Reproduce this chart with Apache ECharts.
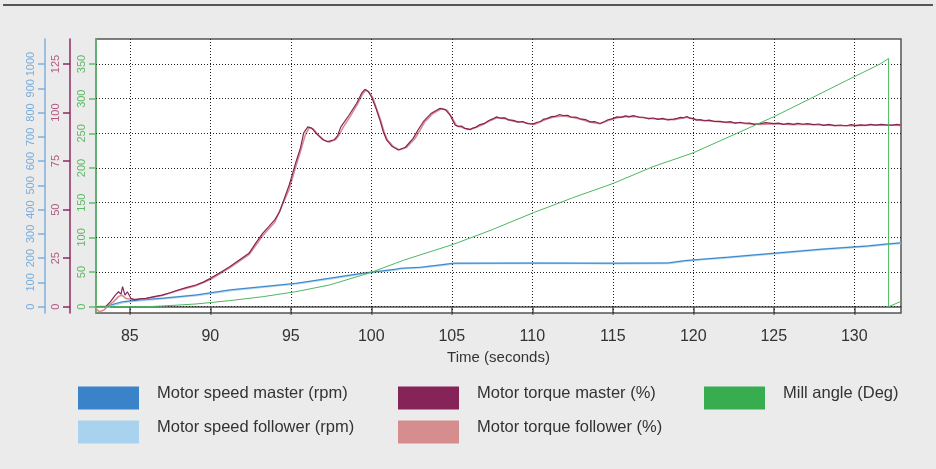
<!DOCTYPE html>
<html>
<head>
<meta charset="utf-8">
<script src="https://cdn.jsdelivr.net/npm/echarts@6/dist/echarts.min.js"></script>
<style>
html,body{margin:0;padding:0;background:#ebebeb;}
#chart{width:936px;height:469px;}
</style>
</head>
<body>
<div id="chart"></div>
<script>
// ---- tick labels ----
const timeTicks = [85, 90, 95, 100, 105, 110, 115, 120, 125, 130];
const angleTicks = [0, 50, 100, 150, 200, 250, 300, 350];
const torqueTicks = [0, 25, 50, 75, 100, 125];
const speedTicks = [0, 100, 200, 300, 400, 500, 600, 700, 800, 900, 1000];

// ---- series names ----
const names = ['Motor speed master (rpm)', 'Motor speed follower (rpm)',
  'Motor torque master (%)', 'Motor torque follower (%)', 'Mill angle (Deg)'];

// ---- data: [time (s), value] ----
const speedMaster = [[82.9,0],[83.6,0],[83.8,7],[84.5,20],[85.6,27.6],[87.0,34.5],[89.1,48],[91.2,69],
  [93.25,82.4],[95.3,96],[97.4,117],[99.46,137.6],[101.5,154],[101.8,158],[103.0,162],[104.27,172],
  [105.1,179],[108,179.3],[110,179.5],[113,179.2],[115,179],[118.4,180],[119.4,189],[120.43,195],
  [122.1,203.5],[125,220],[127.9,236.5],[130.8,250],[132,258],[132.9,263]];
const speedFollower = [[82.9,0],[83.7,0],[83.9,6],[84.6,19],[85.7,27],[87.1,34],[89.2,47.5],[91.3,68.5],
  [93.3,82],[95.4,95.5],[97.5,116.5],[99.5,137],[101.6,153.5],[101.9,157.5],[103.1,161.5],[104.35,171.5],
  [105.2,178.5],[108,179],[110,179.2],[113,179],[115,178.8],[118.5,179.8],[119.5,188.5],[120.5,194.5],
  [122.2,203],[125.1,219.5],[128,236],[130.9,249.5],[132.1,257.5],[132.9,262]];

const torqueMaster = [[82.9,0],[83.5,0],[83.8,2.6],[84.1,6],[84.3,7.7],[84.45,6.5],[84.55,10.3],[84.7,6],
  [84.85,7.7],[85.06,4.3],[85.3,3.5],[85.6,4],[86.0,4.3],[86.5,5.2],[87.0,6],[87.5,7.2],[88.0,8.6],
  [88.5,9.8],[89.1,11.2],[89.6,12.8],[90.0,14.6],[90.6,17.5],[91.2,20.6],[91.8,24],[92.4,27.5],
  [92.8,32.5],[93.25,37.8],[93.6,41],[94.0,44.7],[94.3,48.8],[94.9,62.7],[95.3,74],[95.6,81.8],
  [95.8,89.5],[96.06,92.6],[96.3,92],[96.6,89],[97.0,86],[97.3,85],[97.7,86],[97.9,88],[98.1,92.5],
  [98.6,98.5],[99.09,104.8],[99.4,110],[99.6,112],[99.8,111],[100.02,108],[100.3,102],[100.54,96],
  [100.75,90],[100.95,85.9],[101.3,82.5],[101.68,80.7],[102.1,82],[102.6,86.7],[102.9,91],[103.23,95.3],
  [103.7,99.5],[104.27,102.2],[104.6,101.5],[104.89,98.7],[105.2,93.6],[105.4,92.8],[105.6,93.1],
  [105.8,91.9],[106.0,91.6],[106.13,91.2],[106.3,92.0],[106.5,92.5],[106.75,93.8],[107.0,94.3],
  [107.3,95.9],[107.5,96.6],[107.79,97.8],[108.0,97.1],[108.3,97.3],[108.5,96.2],[108.82,96.0],
  [109.1,95.1],[109.4,95.4],[109.7,94.3],[110.07,94.2],[110.3,95.0],[110.5,95.4],[110.7,96.6],
  [110.9,96.9],[111.2,97.9],[111.4,98.0],[111.7,99.0],[111.93,98.5],[112.2,98.6],[112.4,97.6],
  [112.7,97.7],[112.97,96.8],[113.3,96.4],[113.6,95.2],[113.9,95.3],[114.21,94.4],[114.5,95.4],
  [114.7,96.3],[115.0,96.9],[115.25,97.8],[115.5,97.5],[115.8,98.3],[116.0,97.8],[116.28,98.4],
  [116.6,97.7],[116.9,97.6],[117.2,96.8],[117.52,97.2],[117.8,96.5],[118.1,97.0],[118.4,96.2],
  [118.77,96.6],[119.0,97.0],[119.2,97.5],[119.4,97.3],[119.6,98.0],[119.8,97.1],[120.0,96.9],
  [120.2,96.1],[120.43,96.4],[120.7,95.8],[121.0,96.1],[121.3,95.4],[121.67,95.5],[122.0,95.0],
  [122.3,95.3],[122.6,94.6],[122.91,95.0],[123.2,94.5],[123.5,94.6],[123.8,93.9],[124.15,94.3],
  [124.5,94.8],[124.98,94.3],[125.3,94.6],[125.6,93.9],[125.9,94.4],[126.22,93.9],[126.5,94.5],
  [126.8,94.0],[127.1,94.3],[127.47,93.8],[127.8,94.1],[128.1,93.4],[128.4,93.9],[128.8,93.3],
  [129.13,93.6],[129.5,93.2],[129.8,93.8],[130.1,93.3],[130.37,93.7],[130.7,93.4],[131.0,94.0],
  [131.3,93.5],[131.7,93.9],[132.03,93.6],[132.15,94.6],[132.4,93.5],[132.65,93.9],[132.9,93.5]];
const torqueFollower = [[82.9,-1],[83.1,-2.6],[83.4,-1.7],[83.7,0.9],[84.0,2.6],[84.3,5.2],[84.5,6],
  [84.75,4.3],[85.0,4],[85.5,3.8],[86,4.1],[87,5.8],[88,8.3],[89.1,10.8],[90,14],[91.2,20],[92.4,26.8],
  [93.25,36.5],[94,43.5],[94.9,60.5],[95.3,72],[95.6,80],[95.9,88.5],[96.15,92.2],[96.4,91.5],
  [96.7,88.5],[97.1,85.6],[97.4,84.8],[97.8,86.2],[98.0,88.5],[98.25,92.4],[98.7,98.2],[99.15,104.5],
  [99.45,109.5],[99.65,111.5],[99.85,110.6],[100.1,107.5],[100.35,101.5],[100.6,95.5],[100.8,89.8],
  [101.0,85.8],[101.35,82.6],[101.75,80.8],[102.2,82.2],[102.7,86.5],[103.0,90.6],[103.3,95],
  [103.8,99.3],[104.35,102],[104.7,101.2],[104.95,98.3],[105.3,93.3],[105.6,92.5],[106.0,91.3],
  [106.3,91.7],[106.8,93.3],[107.3,95.5],[107.8,97.3],[108.3,96.9],[108.8,95.6],[109.4,95.0],
  [110.1,93.9],[110.5,95.2],[110.9,96.7],[111.4,97.8],[111.9,98.3],[112.4,97.7],[113.0,96.6],
  [113.6,95.0],[114.2,94.2],[114.7,95.9],[115.3,97.4],[115.8,97.9],[116.3,98.0],[116.9,97.3],
  [117.5,96.9],[118.1,96.6],[118.8,96.3],[119.2,97.0],[119.6,97.6],[120.0,96.7],[120.5,96.0],
  [121.0,95.7],[121.7,95.2],[122.3,94.8],[122.9,94.6],[123.5,94.2],[124.2,93.9],[125.0,94.3],
  [125.6,94.0],[126.2,93.8],[126.8,94.0],[127.5,93.7],[128.3,93.5],[129.1,93.2],[129.8,93.3],
  [130.4,93.4],[131.2,93.5],[132.0,93.6],[132.9,93.4]];

const millAngle = [[82.9,0],[86,0],[87,1],[89.1,3.9],[91.2,8.7],[93.25,14.4],[95.3,21.6],[97.4,31.3],
  [99.46,45.7],[100.1,50.5],[101.5,62.6],[102,67],[105.1,90],[107.5,111],[110.07,135.6],[112.5,157],
  [115.04,178],[117.5,202],[120,222],[122.7,250],[125,274],[127.26,300],[129.5,326],[131.6,350],
  [132.13,358],[132.13,0],[132.9,7.6]];

const colors = {
  speedM: '#3a83c8', speedF: '#a9d2ee', torqueM: '#86245a', torqueF: '#d68d8d', angle: '#38ad4f'
};

const chart = echarts.init(document.getElementById('chart'));
const font = 'Liberation Sans, Arial, sans-serif';

function yAxisCfg(min, max, ticks, offset, lineColor, labelColor) {
  return {
    type: 'value', position: 'left', min: min, max: max, offset: offset,
    axisLine: {show: true, lineStyle: {color: lineColor, width: 1.5}},
    axisTick: {show: true, length: 7, customValues: ticks, lineStyle: {color: lineColor, width: 1.5}},
    axisLabel: {show: true, customValues: ticks, rotate: 90, margin: 9, color: labelColor,
      fontSize: 11, fontFamily: font, formatter: v => String(v)},
    splitLine: {show: false}
  };
}

const legendText = {fontSize: 16.5, color: '#333', fontFamily: font, lineHeight: 9, padding: [0, 0, 0, 13]};
const legendFmt = n => n + '\n ';

const option = {
  backgroundColor: '#ebebeb',
  animation: false,
  graphic: [{type: 'line', shape: {x1: 3, y1: 5, x2: 933, y2: 5}, style: {stroke: '#555', lineWidth: 2}}],
  grid: {left: 96, right: 35, top: 39, bottom: 156, show: true, backgroundColor: '#fff',
    borderColor: '#555', borderWidth: 1.5},
  legend: [
    {left: 78, top: 385, padding: 0, orient: 'vertical', icon: 'rect', itemWidth: 61, itemHeight: 23, itemGap: 8,
      data: [names[0], names[1]], textStyle: legendText, formatter: legendFmt},
    {left: 398, top: 385, padding: 0, orient: 'vertical', icon: 'rect', itemWidth: 61, itemHeight: 23, itemGap: 8,
      data: [names[2], names[3]], textStyle: legendText, formatter: legendFmt},
    {left: 704, top: 385, padding: 0, orient: 'vertical', icon: 'rect', itemWidth: 61, itemHeight: 23, itemGap: 8,
      data: [names[4]], textStyle: legendText, formatter: legendFmt}
  ],
  xAxis: {
    type: 'value', min: 82.9, max: 132.9,
    name: 'Time (seconds)', nameLocation: 'middle', nameGap: 37,
    nameTextStyle: {fontSize: 15, color: '#333', fontFamily: font},
    axisLine: {show: true, lineStyle: {color: '#555', width: 1.5}},
    axisTick: {show: true, length: 8, customValues: timeTicks, lineStyle: {color: '#555', width: 1.5}},
    axisLabel: {show: true, customValues: timeTicks, margin: 16, fontSize: 16, color: '#333', fontFamily: font},
    splitLine: {show: false}
  },
  yAxis: [
    yAxisCfg(-9.09, 386.1, angleTicks, 0, '#5cbf6a', '#5cb865'),
    yAxisCfg(-3.246, 137.9, torqueTicks, 26, '#8c2a5f', '#b05a82'),
    yAxisCfg(-25.97, 1103.1, speedTicks, 51, '#7fb0de', '#79acdc')
  ],
  series: [
    {name: 'grid', type: 'line', yAxisIndex: 0, data: [[83, 0]], symbol: 'none', silent: true,
      lineStyle: {opacity: 0}, z: 1,
      markLine: {silent: true, symbol: 'none', label: {show: false},
        lineStyle: {type: [1, 2], color: '#222', width: 1},
        data: timeTicks.map(v => ({xAxis: v})).concat(angleTicks.map(v => ({yAxis: v})))}},
    {name: names[1], type: 'line', yAxisIndex: 2, data: speedFollower, symbol: 'none', z: 2,
      color: colors.speedF, lineStyle: {width: 2.2, color: colors.speedF}},
    {name: names[0], type: 'line', yAxisIndex: 2, data: speedMaster, symbol: 'none', z: 3,
      color: colors.speedM, lineStyle: {width: 1, color: colors.speedM}},
    {name: names[3], type: 'line', yAxisIndex: 1, data: torqueFollower, symbol: 'none', z: 4,
      color: colors.torqueF, lineStyle: {width: 1.6, color: colors.torqueF}},
    {name: names[2], type: 'line', yAxisIndex: 1, data: torqueMaster, symbol: 'none', z: 5,
      color: colors.torqueM, lineStyle: {width: 1.2, color: colors.torqueM}},
    {name: names[4], type: 'line', yAxisIndex: 0, data: millAngle, symbol: 'none', z: 6,
      color: colors.angle, lineStyle: {width: 1, color: '#4cb862'}}
  ]
};
chart.setOption(option);
</script>
</body>
</html>
